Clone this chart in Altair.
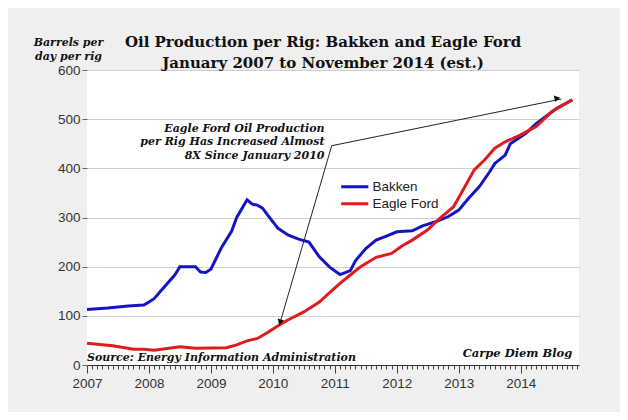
import altair as alt
import pandas as pd

# ---- data ----
bakken_dates = ["2007-01","2007-05","2007-09","2007-12","2008-01","2008-02","2008-04","2008-06",
                "2008-07","2008-10","2008-11","2008-12","2009-01","2009-03","2009-05","2009-06",
                "2009-08","2009-09","2009-10","2009-11","2009-12","2010-02","2010-04","2010-06",
                "2010-08","2010-10","2010-12","2011-02","2011-04","2011-05","2011-07","2011-09",
                "2011-11","2012-01","2012-04","2012-06","2012-09","2012-11","2013-01","2013-03",
                "2013-05","2013-07","2013-08","2013-10","2013-11","2014-02","2014-04","2014-08",
                "2014-11"]
bakken_values = [113,116,120,122,128,135,159,183,
                 200,200,189,188,195,238,272,300,
                 336,327,325,319,305,278,264,256,
                 250,220,199,184,192,212,237,254,
                 262,271,273,283,293,302,315,340,
                 363,393,410,427,450,471,491,522,
                 539]

eagle_dates = ["2007-01","2007-06","2007-10","2007-12","2008-02","2008-07","2008-10","2009-04",
               "2009-06","2009-08","2009-10","2009-12","2010-02","2010-04","2010-07","2010-10",
               "2010-12","2011-02","2011-04","2011-06","2011-09","2011-12","2012-02","2012-04",
               "2012-07","2012-09","2012-11","2012-12","2013-02","2013-04","2013-06","2013-08",
               "2013-10","2014-01","2014-04","2014-07","2014-11"]
eagle_values = [44,39,32,32,30,37,34,35,
                41,49,54,66,80,92,108,128,
                147,166,183,200,219,227,242,254,
                275,295,313,322,359,397,417,441,
                454,468,485,515,540]

series_names = ["Bakken", "Eagle Ford"]
series_colors = ["#1414c4", "#e01b1b"]

year_start = 2007
y_ticks = [0, 100, 200, 300, 400, 500, 600]

title_lines = ["Oil Production per Rig: Bakken and Eagle Ford",
               "January 2007 to November 2014 (est.)"]
y_title_lines = ["Barrels per", "day per rig"]

# annotation text (month index, value)
note_lines = ["Eagle Ford Oil Production", "per Rig Has Increased Almost", "8X Since January 2010"]
note_m = [46.0, 46.0, 46.0]
note_v = [481, 453, 425]

source_text = ["Source: Energy Information Administration"]
source_m = [0.0]
source_v = [14]
blog_text = ["Carpe Diem Blog"]
blog_m = [94.0]
blog_v = [22]

# arrows: common start, two tips
arrow_start_m = [47.4, 47.4]
arrow_start_v = [446, 446]
arrow_tip_m = [91.9, 37.2]
arrow_tip_v = [541, 79]
head_m = [91.1, 37.4]
head_v = [542.6, 86.8]
head_angle = [348.5, 106.3]


def month_index(s):
    y, m = s.split("-")
    return (int(y) - year_start) * 12 + int(m) - 1


rows = []
for d, v in zip(bakken_dates, bakken_values):
    rows.append({"m": month_index(d), "v": v, "series": "Bakken"})
for d, v in zip(eagle_dates, eagle_values):
    rows.append({"m": month_index(d), "v": v, "series": "Eagle Ford"})
lines_df = pd.DataFrame(rows)

notes_df = pd.DataFrame({"m": note_m, "v": note_v, "t": note_lines})
source_df = pd.DataFrame({"m": source_m, "v": source_v, "t": source_text})
blog_df = pd.DataFrame({"m": blog_m, "v": blog_v, "t": blog_text})
arrows_df = pd.DataFrame({"m": arrow_start_m, "v": arrow_start_v,
                          "m2": arrow_tip_m, "v2": arrow_tip_v})
heads_df = pd.DataFrame({"m": head_m, "v": head_v, "a": head_angle})

x_axis = alt.Axis(
    values=list(range(0, 96)),
    labelExpr=f"datum.value % 12 === 0 ? '' + ({year_start} + datum.value / 12) : ''",
    tickSize={"condition": {"test": "datum.value % 12 === 0", "value": 8}, "value": 4},
    tickColor="#444", domainColor="#333", domainWidth=1,
    labelFont="Liberation Sans", labelFontSize=13.5, labelColor="#333",
    labelPadding=3, labelOverlap=False, grid=False, labelFlush=False,
)
y_axis = alt.Axis(
    values=y_ticks, grid=True, gridColor="#cfcfcf", gridWidth=1,
    domain=False, tickSize=5, tickColor="#666",
    labelFont="Liberation Sans", labelFontSize=13.5, labelColor="#333", labelPadding=2,
    title=y_title_lines, titleAngle=0, titleAlign="center", titleBaseline="top",
    titleX=-19, titleY=-34, titleFont="DejaVu Serif", titleFontStyle="italic",
    titleFontWeight="bold", titleFontSize=11, titleLineHeight=14, titleColor="#111",
)

X = alt.X("m:Q", scale=alt.Scale(domain=[0, 95.3], nice=False, zero=False), axis=x_axis, title=None)
Y = alt.Y("v:Q", scale=alt.Scale(domain=[0, 600], nice=False), axis=y_axis)

lines = alt.Chart(lines_df).mark_line(strokeWidth=3).encode(
    x=X, y=Y,
    color=alt.Color("series:N",
                    scale=alt.Scale(domain=series_names, range=series_colors),
                    legend=alt.Legend(title=None, orient="none", legendX=261, legendY=110,
                                      symbolType="M-4,0H4", symbolSize=46, symbolStrokeWidth=3,
                                      labelFont="Liberation Sans", labelFontSize=13.5,
                                      labelColor="#222", labelOffset=11, rowPadding=2)),
    order=alt.Order("m:Q"),
)

serif_bi = dict(font="DejaVu Serif", fontStyle="italic", fontWeight="bold", color="#111")

notes = alt.Chart(notes_df).mark_text(align="right", baseline="middle", fontSize=11, **serif_bi).encode(
    x=X, y=Y, text="t:N")
source = alt.Chart(source_df).mark_text(align="left", baseline="middle", fontSize=11, **serif_bi).encode(
    x=X, y=Y, text="t:N")
blog = alt.Chart(blog_df).mark_text(align="right", baseline="middle", fontSize=11.5, **serif_bi).encode(
    x=X, y=Y, text="t:N")
arrows = alt.Chart(arrows_df).mark_rule(color="#222", strokeWidth=1).encode(
    x=X, y=Y, x2="m2:Q", y2="v2:Q")
heads = alt.Chart(heads_df).mark_point(shape="triangle-right", filled=True, size=45,
                                       color="#111", opacity=1).encode(
    x=X, y=Y, angle=alt.Angle("a:Q", scale=None))

chart = alt.layer(lines, arrows, heads, notes, source, blog).properties(
    width=492, height=295,
    title=alt.TitleParams(text=title_lines, font="DejaVu Serif", fontSize=15, fontWeight="bold",
                          color="#111", anchor="middle", frame="group", dx=-10, dy=35,
                          offset=0, lineHeight=21),
    autosize=alt.AutoSizeParams(type="none"),
    padding={"left": 79, "top": 62, "right": 41, "bottom": 47},
    background="#efefef",
).configure_view(fill="white", strokeWidth=0)

chart.save("out.html", embed_options={"renderer": "svg", "actions": False})
